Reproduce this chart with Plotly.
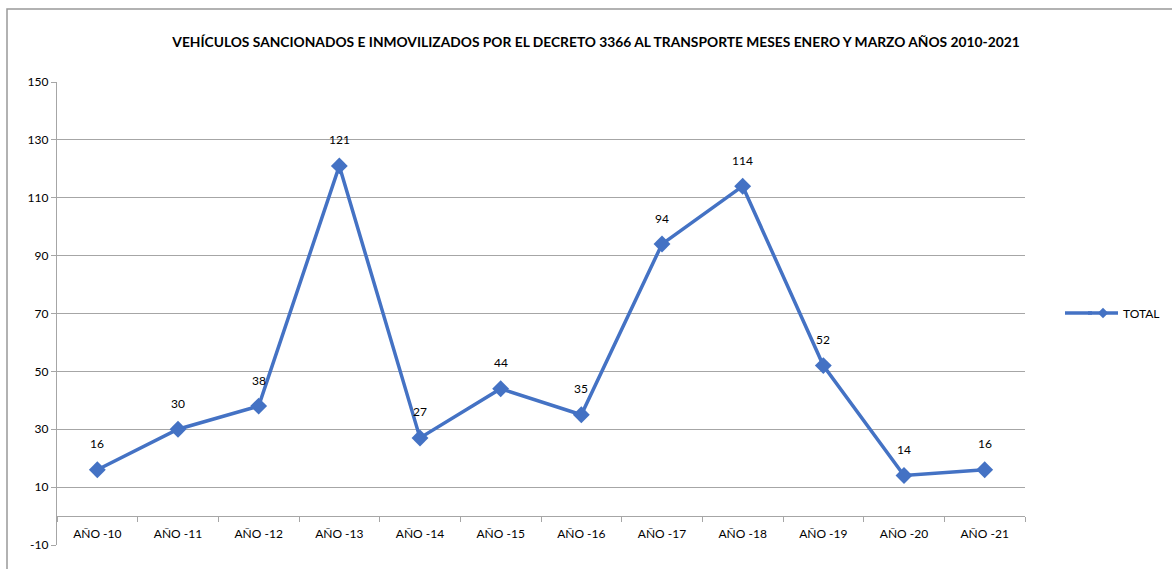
import plotly.graph_objects as go

categories = ["AÑO -10", "AÑO -11", "AÑO -12", "AÑO -13", "AÑO -14", "AÑO -15",
              "AÑO -16", "AÑO -17", "AÑO -18", "AÑO -19", "AÑO -20", "AÑO -21"]
total = [16, 30, 38, 121, 27, 44, 35, 94, 114, 52, 14, 16]
y_ticks = [-10, 10, 30, 50, 70, 90, 110, 130, 150]
series_name = "TOTAL"
title_text = "VEHÍCULOS SANCIONADOS E INMOVILIZADOS POR EL DECRETO 3366 AL TRANSPORTE MESES ENERO Y MARZO AÑOS 2010-2021"

BLUE = "#4472C4"
GRID = "#A6A6A6"
FONT = "Lato, Liberation Sans, Arial, sans-serif"

W, H = 1172, 569
ML, MR, MT, MB = 57, 147, 82, 24
ymin, ymax = -10, 150
plot_w = W - ML - MR
plot_h = H - MT - MB


def px_x(p):
    return (p - ML) / plot_w


def px_y(p):
    return (H - MB - p) / plot_h


fig = go.Figure()
fig.add_trace(go.Scatter(
    x=categories, y=total, mode="lines+markers", name=series_name,
    line=dict(color=BLUE, width=3.5),
    marker=dict(symbol="diamond", size=13, color=BLUE),
    showlegend=False,
))
# legend entry with the smaller legend marker
fig.add_trace(go.Scatter(
    x=[None], y=[None], mode="lines+markers", name=series_name,
    line=dict(color=BLUE, width=3.5),
    marker=dict(symbol="diamond", size=8, color=BLUE),
    showlegend=True, hoverinfo="skip",
))

for c, v in zip(categories, total):
    fig.add_annotation(x=c, y=v, text=str(v), showarrow=False, yshift=26,
                       font=dict(family=FONT, size=12, color="#000000"))

# outer chart border (top and left visible)
fig.add_shape(type="rect", xref="paper", yref="paper",
              x0=px_x(7), x1=2.0, y0=-1.0, y1=px_y(9),
              line=dict(color="#999999", width=1.5), layer="below")
# extend legend line to the left like the reference legend key
fig.add_shape(type="line", xref="paper", yref="paper",
              x0=px_x(1065), x1=px_x(1092), y0=px_y(313), y1=px_y(313),
              line=dict(color=BLUE, width=3.5))

x_axis_pos = (0 - ymin) / (ymax - ymin)

fig.update_layout(
    width=W, height=H,
    margin=dict(l=ML, r=MR, t=MT, b=MB, autoexpand=False),
    paper_bgcolor="white", plot_bgcolor="white",
    font=dict(family=FONT, size=12, color="#000000"),
    title=dict(text="<b>" + title_text + "</b>", x=596 / W, xref="container",
               xanchor="center", y=1 - 42 / H, yref="container", yanchor="middle",
               font=dict(family=FONT, size=13.8, color="#000000")),
    xaxis=dict(type="category", anchor="free", position=x_axis_pos,
               showline=True, linecolor=GRID, linewidth=1.2,
               ticks="outside", tickson="boundaries", ticklen=5, tickcolor=GRID,
               ticklabelstandoff=6,
               showgrid=False, zeroline=False, automargin=False,
               tickfont=dict(family=FONT, size=12),
               range=[-0.5, len(categories) - 0.5]),
    yaxis=dict(range=[ymin, ymax], tickmode="array", tickvals=y_ticks,
               ticktext=[str(t) for t in y_ticks],
               showgrid=True, gridcolor=GRID, gridwidth=1.2,
               showline=True, linecolor=GRID, linewidth=1.2,
               ticks="outside", ticklen=5, tickcolor=GRID, automargin=False,
               zeroline=False, tickfont=dict(family=FONT, size=12)),
    legend=dict(x=px_x(1083), y=px_y(313), xanchor="left", yanchor="middle",
                font=dict(family=FONT, size=12), bgcolor="rgba(0,0,0,0)"),
)

fig.write_html("out.html", config={"displayModeBar": False},
               post_script="document.body.style.margin='0';")
